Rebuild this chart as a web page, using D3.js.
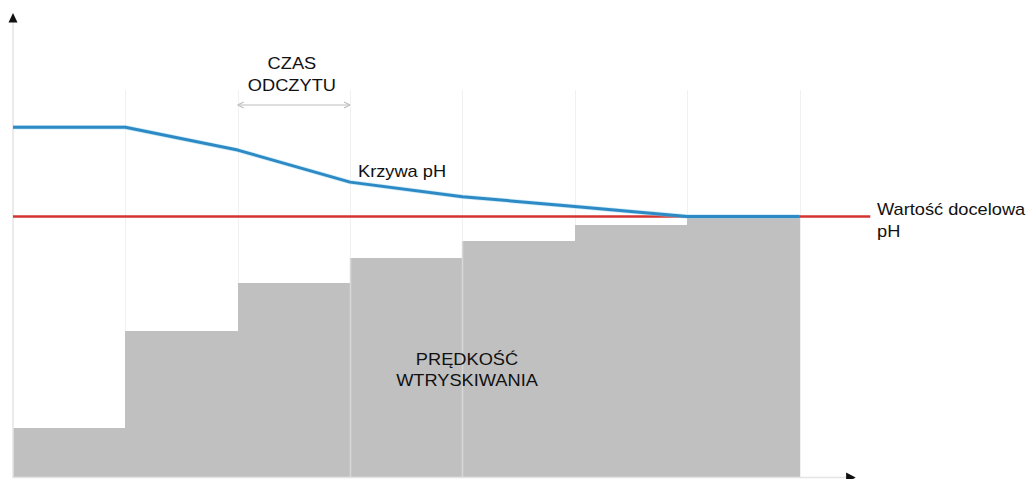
<!DOCTYPE html>
<html>
<head>
<meta charset="utf-8">
<script src="https://cdn.jsdelivr.net/npm/d3@7"></script>
<style>
  html, body { margin: 0; padding: 0; background: #fff; }
  svg { display: block; }
  text { font-family: "Liberation Sans", Arial, sans-serif; fill: #111; }
</style>
</head>
<body>
<svg id="chart" width="1030" height="479"></svg>
<script>
// Time steps (reading intervals), arbitrary units on both axes
const stepIndex = [0, 1, 2, 3, 4, 5, 6];
// Injection rate held constant within each step
const injectionRate = [11, 32, 42.6, 48, 51.7, 55.2, 57];
// pH curve sampled at each step boundary
const phTimes = [0, 1, 2, 3, 4, 5, 6, 7];
const phValues = [76.6, 76.6, 71.6, 64.6, 61.4, 59.3, 57.1, 57.1];
// Target pH level
const targetPh = 57.1;
// Labels
const readTimeLabel = ["CZAS", "ODCZYTU"];
const curveLabel = "Krzywa pH";
const targetLabel = ["Wartość docelowa", "pH"];
const rateLabel = ["PRĘDKOŚĆ", "WTRYSKIWANIA"];

const svg = d3.select("#chart");

const x = d3.scaleLinear().domain([0, 7]).range([13, 799.5]);
const y = d3.scaleLinear().domain([0, 100]).range([478, 20]);

const stretch = 1.14;
function label(g, lines, cx, baseline, anchor, lh) {
  const t = g.append("g")
    .attr("transform", `translate(${cx},${baseline}) scale(${stretch},1)`);
  lines.forEach((s, i) => {
    t.append("text")
      .attr("x", 0)
      .attr("y", i * lh)
      .attr("text-anchor", anchor)
      .attr("font-size", 16)
      .text(s);
  });
}

// Faint vertical grid at step boundaries
svg.append("g").selectAll("line")
  .data(d3.range(1, 8))
  .join("line")
  .attr("x1", d => Math.round(x(d)) + 0.5).attr("x2", d => Math.round(x(d)) + 0.5)
  .attr("y1", 90).attr("y2", y(0))
  .attr("stroke", "#f1f1f1")
  .attr("stroke-width", 1);

// Injection rate steps
svg.append("g").selectAll("rect")
  .data(stepIndex)
  .join("rect")
  .attr("x", d => Math.round(x(d)))
  .attr("width", d => Math.round(x(d + 1)) - Math.round(x(d)))
  .attr("y", d => Math.round(y(injectionRate[d])))
  .attr("height", d => y(0) - Math.round(y(injectionRate[d])))
  .attr("fill", "#c0c0c0")
  .attr("shape-rendering", "crispEdges");

// Light seams between the middle steps
svg.append("g").selectAll("line")
  .data([3, 4])
  .join("line")
  .attr("x1", d => Math.round(x(d)) + 0.5).attr("x2", d => Math.round(x(d)) + 0.5)
  .attr("y1", d => Math.round(y(injectionRate[d]))).attr("y2", y(0))
  .attr("stroke", "#d8d8d8")
  .attr("stroke-width", 1.5);

// Axes: vertical and horizontal with arrow heads
svg.append("line")
  .attr("x1", x(0)).attr("x2", x(0))
  .attr("y1", 20).attr("y2", y(0))
  .attr("stroke", "#e4e4e4").attr("stroke-width", 1.5);
svg.append("path")
  .attr("d", `M${x(0)},13 L${x(0) - 4.5},22.5 L${x(0) + 4.5},22.5 Z`)
  .attr("fill", "#111");
svg.append("line")
  .attr("x1", x(0)).attr("x2", x(7.45))
  .attr("y1", 477.5).attr("y2", 477.5)
  .attr("stroke", "#e4e4e4").attr("stroke-width", 1.5);
svg.append("path")
  .attr("d", `M${x(7.5)},477.5 L${x(7.415)},472.5 L${x(7.415)},483 Z`)
  .attr("fill", "#111");

// Target pH line
svg.append("line")
  .attr("x1", x(0)).attr("x2", x(7.63))
  .attr("y1", y(targetPh)).attr("y2", y(targetPh))
  .attr("stroke", "#d4342f")
  .attr("stroke-width", 2.5);

// pH curve
const line = d3.line().x((d, i) => x(phTimes[i])).y(d => y(d));
svg.append("path")
  .datum(phValues)
  .attr("d", line)
  .attr("fill", "none")
  .attr("stroke", "#8fd0f0")
  .attr("stroke-width", 4.5)
  .attr("stroke-opacity", 0.45);
svg.append("path")
  .datum(phValues)
  .attr("d", line)
  .attr("fill", "none")
  .attr("stroke", "#2d8ac4")
  .attr("stroke-width", 3)
  .attr("stroke-linejoin", "round");

// Reading time bracket
const arrowY = 105;
svg.append("line")
  .attr("x1", x(2)).attr("x2", x(3))
  .attr("y1", arrowY).attr("y2", arrowY)
  .attr("stroke", "#bdbdbd").attr("stroke-width", 1.2);
svg.append("path")
  .attr("d", `M${x(2)},${arrowY} L${x(2) + 6},${arrowY - 3} M${x(2)},${arrowY} L${x(2) + 6},${arrowY + 3}` +
             `M${x(3)},${arrowY} L${x(3) - 6},${arrowY - 3} M${x(3)},${arrowY} L${x(3) - 6},${arrowY + 3}`)
  .attr("stroke", "#bdbdbd").attr("stroke-width", 1.2).attr("fill", "none");

// Text labels
label(svg, readTimeLabel, (x(2) + x(3)) / 2 - 2, 69, "middle", 22.5);
label(svg, [curveLabel], 358, 177, "start", 22);
label(svg, targetLabel, 877, 215, "start", 22);
label(svg, rateLabel, 467, 365, "middle", 21);
</script>
</body>
</html>
